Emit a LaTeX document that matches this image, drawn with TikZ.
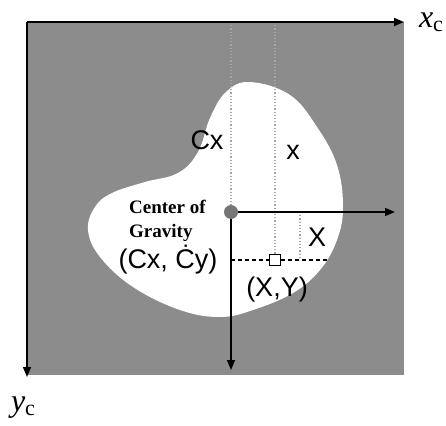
\documentclass[tikz,border=0pt]{standalone}
\usepackage{fontspec}
\setmainfont{Liberation Serif}
\newfontfamily\labelfont{Liberation Sans}
\usetikzlibrary{arrows.meta}
\definecolor{bggray}{RGB}{140,140,140}
\definecolor{dotgray}{RGB}{118,118,118}
\tikzset{
  axis/.style={line width=1.6pt,-{Triangle[length=10pt,width=8pt]}},
  guide/.style={dotted,line width=1.2pt,color=gray!70},
  lbl/.style={font=\labelfont\fontsize{27}{27}\selectfont,inner sep=0pt},
  axlbl/.style={font=\fontsize{32}{32}\selectfont,inner sep=0pt}
}
\newcommand{\axname}[1]{\textit{#1}\raisebox{-0.25ex}{\fontsize{22}{22}\selectfont c}}
\begin{document}
\begin{tikzpicture}[x=1pt,y=-1pt]
\useasboundingbox (0,0) rectangle (446,425);
% background and body
\fill[bggray] (27,22) rectangle (404,375);
\fill[white] plot[smooth cycle,tension=0.65] coordinates {
  (250,82) (290,95) (317,127) (337,165) (343,207) (337,240) (320,270)
  (293,293) (253,310) (220,317) (180,310) (133,287) (100,257) (88,230)
  (95,207) (112,193) (145,182) (178,173) (198,152) (210,118) (226,92)};
% named points
\coordinate (o) at (27,22);
\coordinate (xend) at (404,22);
\coordinate (yend) at (27,377);
\node[circle,fill=dotgray,minimum size=14pt,inner sep=0pt] (cog) at (231,212) {};
\coordinate (cxend) at (395,212);
\coordinate (cyend) at (231,370);
\node[draw,fill=white,line width=1.4pt,minimum size=11pt,inner sep=0pt] (pt) at (275,260) {};
\coordinate (cxtop) at (231,22);
\coordinate (xtop) at (275,22);
\coordinate (xx) at (300,212);
\coordinate (xxlow) at (300,260);
\coordinate (dashend) at (330,260);
% guides
\draw[guide] (cxtop) -- (cog.north);
\draw[guide] (xtop) -- (pt.north);
\draw[guide] (xx) -- (xxlow);
\draw[dashed,line width=1.3pt,dash pattern=on 4pt off 3pt] (cog |- pt) -- (pt.west);
\draw[dashed,line width=1.3pt,dash pattern=on 4pt off 3pt] (pt.east) -- (dashend);
% axes
\draw[axis] (o) -- (xend);
\draw[axis] (o) -- (yend);
\draw[axis] (cog.east) -- (cxend);
\draw[axis] (cog.south) -- (cyend);
% labels
\node[axlbl] (xc) at (431,22) {\axname{x}};
\node[axlbl] (yc) at (23,408) {\axname{y}};
\node[lbl] (cx) at (207,140) {Cx};
\node[lbl] (xlow) at (293,152) {x};
\node[lbl] (xup) at (317,237) {X};
\node[lbl] (cxcy) at (168,260) {(Cx, \.{C}y)};
\node[lbl] (xy) at (277,290) {(X,Y)};
\node[font=\bfseries\fontsize{19}{24}\selectfont,align=left,anchor=west,inner sep=0pt] (cglabel) at (129,221) {Center of\\Gravity};
\end{tikzpicture}
\end{document}
